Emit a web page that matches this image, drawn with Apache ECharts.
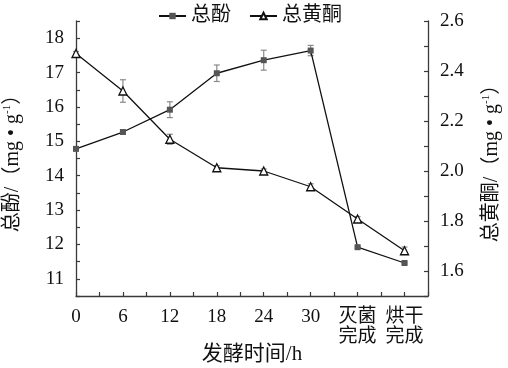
<!DOCTYPE html>
<html><head><meta charset="utf-8">
<script src="https://cdn.jsdelivr.net/npm/echarts@6/dist/echarts.min.js"></script>
<style>html,body{margin:0;padding:0;background:#fff}#c{width:508px;height:368px}</style>
</head><body><div id="c"></div>
<script>
// categories along the x axis
const categories = ['0', '6', '12', '18', '24', '30', '灭菌\n完成', '烘干\n完成'];
// total phenol (mg/g), left axis
const phenol = [14.78, 15.27, 15.92, 16.98, 17.36, 17.64, 11.92, 11.46];
const phenolErr = [0.04, 0.03, 0.23, 0.24, 0.29, 0.15, 0.03, 0.03];
// total flavonoids (mg/g), right axis
const flavone = [2.47, 2.32, 2.127, 2.013, 2.0, 1.937, 1.808, 1.681];
const flavoneErr = [0.008, 0.045, 0.02, 0.008, 0.008, 0.012, 0.01, 0.015];
// tick labels
const leftTickLabels = ['11', '12', '13', '14', '15', '16', '17', '18'];
const rightTickLabels = ['1.6', '1.8', '2.0', '2.2', '2.4', '2.6'];

const FONT = "'Liberation Serif','Noto Sans CJK SC',serif";
const AX = '#3a3a3a';

const phenolPts = phenol.map((v, i) => [i, v]);
const flavonePts = flavone.map((v, i) => [i, v]);
const phenolBars = phenol.map((v, i) => [i, v - phenolErr[i], v + phenolErr[i]]);
const flavoneBars = flavone.map((v, i) => [i, v - flavoneErr[i], v + flavoneErr[i]]);

function errRender(params, api) {
  const x = api.value(0), lo = api.value(1), hi = api.value(2);
  const a = api.coord([x, hi]), b = api.coord([x, lo]);
  const w = 3;
  const st = { stroke: '#8a8a8a', lineWidth: 1.2 };
  return { type: 'group', children: [
    { type: 'line', shape: { x1: a[0], y1: a[1], x2: b[0], y2: b[1] }, style: st },
    { type: 'line', shape: { x1: a[0] - w, y1: a[1], x2: a[0] + w, y2: a[1] }, style: st },
    { type: 'line', shape: { x1: b[0] - w, y1: b[1], x2: b[0] + w, y2: b[1] }, style: st }
  ]};
}

const chart = echarts.init(document.getElementById('c'));
const axisCommon = {
  nameMoveOverlap: false,
  axisLine: { show: true, lineStyle: { color: AX, width: 1.3 } },
  axisTick: { show: true, inside: true, length: 4, lineStyle: { color: AX, width: 1.2 } },
  splitLine: { show: false }
};
const supStyle = { fontFamily: FONT, fontSize: 11, verticalAlign: 'top', padding: [0, 0, 10, 0], color: '#111' };
chart.setOption({
  animation: false,
  backgroundColor: '#fff',
  grid: { left: 76, right: 80, top: 21, bottom: 72, containLabel: false, outerBoundsMode: 'none' },
  legend: {
    left: 153, top: 1,
    itemWidth: 27, itemHeight: 8, itemGap: 18,
    textStyle: { fontFamily: FONT, fontSize: 20, color: '#111' },
    data: ['总酚', '总黄酮']
  },
  xAxis: Object.assign({
    type: 'value', min: 0, max: 7.5, interval: 0.5,
    name: '发酵时间/h', nameLocation: 'middle', nameGap: 48,
    nameTextStyle: { fontFamily: FONT, fontSize: 21, color: '#111' },
    axisLabel: {
      fontFamily: FONT, fontSize: 19, color: '#111', margin: 11, lineHeight: 20,
      formatter: v => (Number.isInteger(v) && categories[v] !== undefined) ? categories[v] : ''
    }
  }, axisCommon),
  yAxis: [
    Object.assign({
      type: 'value', min: 10.5, max: 18.5, interval: 0.5, position: 'left',
      name: '总酚/（mg • g{sup|-1}）', nameLocation: 'middle', nameGap: 53, nameRotate: 90,
      nameTextStyle: { fontFamily: FONT, fontSize: 20, color: '#111', rich: { sup: supStyle } },
      axisLabel: {
        fontFamily: FONT, fontSize: 19, color: '#111', margin: 12,
        formatter: v => { const s = String(Math.round(v)); return (Math.abs(v - Math.round(v)) < 1e-6 && leftTickLabels.includes(s)) ? s : ''; }
      }
    }, axisCommon),
    Object.assign({
      type: 'value', min: 1.5, max: 2.6, interval: 0.1, position: 'right',
      name: '总黄酮/（mg • g{sup|-1}）', nameLocation: 'middle', nameGap: 53, nameRotate: 90,
      nameTextStyle: { fontFamily: FONT, fontSize: 20, color: '#111', rich: { sup: supStyle } },
      axisLabel: {
        fontFamily: FONT, fontSize: 19, color: '#111', margin: 12,
        formatter: v => { const s = (Math.round(v * 10) / 10).toFixed(1); return rightTickLabels.includes(s) ? s : ''; }
      }
    }, axisCommon)
  ],
  series: [
    { type: 'custom', name: 'err1', yAxisIndex: 0, z: 1, renderItem: errRender, data: phenolBars, silent: true },
    { type: 'custom', name: 'err2', yAxisIndex: 1, z: 1, renderItem: errRender, data: flavoneBars, silent: true },
    {
      type: 'line', name: '总酚', yAxisIndex: 0, z: 3, data: phenolPts,
      symbol: 'rect', symbolSize: 6,
      lineStyle: { color: '#111', width: 1.3 },
      itemStyle: { color: '#555', borderWidth: 0 }
    },
    {
      type: 'line', name: '总黄酮', yAxisIndex: 1, z: 3, data: flavonePts,
      symbol: 'triangle', symbolSize: 8,
      lineStyle: { color: '#111', width: 1.3 },
      itemStyle: { color: '#fff', borderColor: '#111', borderWidth: 1.3 }
    }
  ]
});
</script></body></html>
